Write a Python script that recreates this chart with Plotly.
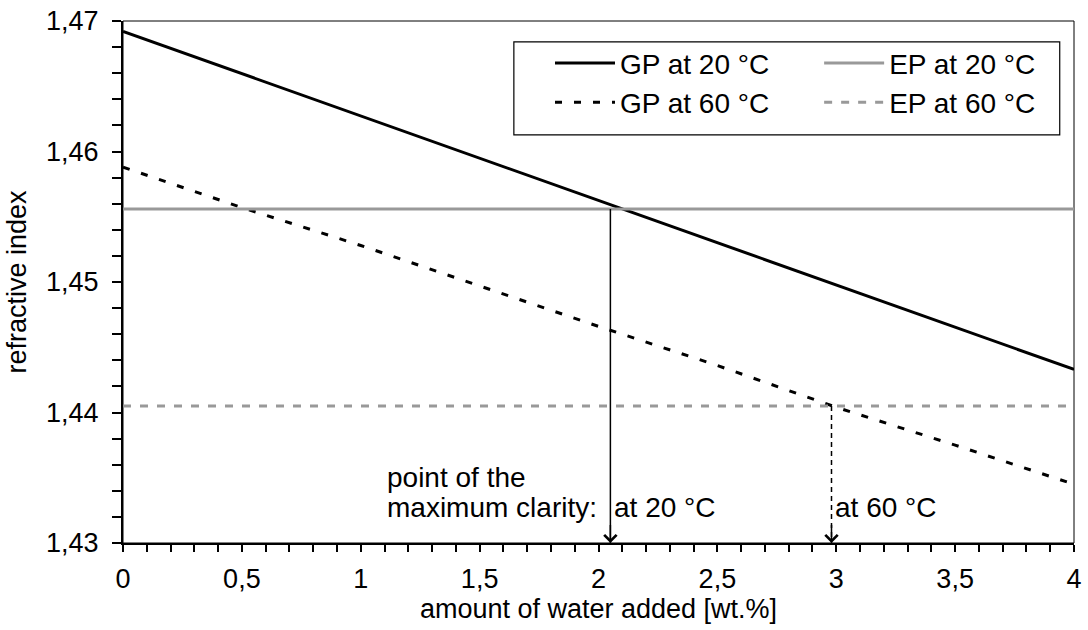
import plotly.graph_objects as go

# ---- data ----
water = [0, 4]
gp20 = [1.4692, 1.4433]
water60 = [0, 0.5, 1.0, 1.5, 2.0, 2.5, 3.0, 3.5, 4.0]
gp60 = [1.4588, 1.4557, 1.4528, 1.4497, 1.4466, 1.4436, 1.4404, 1.4375, 1.4345]
ep20 = [1.4556, 1.4556]
ep60 = [1.4405, 1.4405]
clarity_x = [2.05, 2.98]
clarity_y = [1.4556, 1.4405]
clarity_labels = ["at 20 °C", "at 60 °C"]
note_lines = ["point of the", "maximum clarity:"]
note_y = [1.4350, 1.4327]
x_ticks = [0, 0.5, 1, 1.5, 2, 2.5, 3, 3.5, 4]
y_ticks = [1.43, 1.44, 1.45, 1.46, 1.47]
y_min, y_max = 1.43, 1.47
x_min, x_max = 0, 4

FONT = "Liberation Sans, Arial, sans-serif"
FS = 27
FS_TXT = 28

fig = go.Figure()
fig.add_trace(go.Scatter(x=water, y=gp20, mode="lines", name="GP at 20 °C",
                         line=dict(color="black", width=3), legend="legend"))
fig.add_trace(go.Scatter(x=water60, y=gp60, mode="lines", name="GP at 60 °C",
                         line=dict(color="black", width=3, dash="7px,12px"), legend="legend"))
fig.add_trace(go.Scatter(x=water, y=ep20, mode="lines", name="EP at 20 °C",
                         line=dict(color="#999999", width=3), legend="legend2"))
fig.add_trace(go.Scatter(x=water, y=ep60, mode="lines", name="EP at 60 °C",
                         line=dict(color="#999999", width=3, dash="8px,9px"), legend="legend2"))

# vertical arrows (lines)
fig.add_trace(go.Scatter(x=[clarity_x[0], clarity_x[0]], y=[clarity_y[0], y_min], mode="lines",
                         line=dict(color="black", width=1.5), showlegend=False))
fig.add_trace(go.Scatter(x=[clarity_x[1], clarity_x[1]], y=[clarity_y[1], y_min], mode="lines",
                         line=dict(color="black", width=1.5, dash="5px,4px"), showlegend=False))

for cx in clarity_x:
    fig.add_annotation(x=cx, y=y_min, ax=cx, ay=y_min + 0.0015, xref="x", yref="y",
                       axref="x", ayref="y", showarrow=True, arrowhead=4, arrowsize=1.6,
                       arrowwidth=1.5, arrowcolor="black", standoff=0, text="")

for cx, lab in zip(clarity_x, clarity_labels):
    fig.add_annotation(x=cx + 0.008, y=note_y[1], xref="x", yref="y", text=lab, showarrow=False,
                       xanchor="left", yanchor="middle",
                       font=dict(family=FONT, size=FS_TXT, color="black"))
for txt, ty in zip(note_lines, note_y):
    fig.add_annotation(x=1.10, y=ty, xref="x", yref="y", text=txt, showarrow=False,
                       xanchor="left", yanchor="middle",
                       font=dict(family=FONT, size=FS_TXT, color="black"))

# frame and legend box
fig.add_shape(type="rect", xref="paper", yref="paper", x0=0, x1=1, y0=0, y1=1,
              line=dict(color="black", width=1), layer="below")
fig.add_shape(type="rect", xref="paper", yref="paper", x0=0.411, x1=0.985, y0=0.782, y1=0.96,
              line=dict(color="black", width=1.2), fillcolor="white", layer="below")

fig.update_layout(
    width=1088, height=630,
    margin=dict(l=123, r=6, t=12, b=87),
    paper_bgcolor="white", plot_bgcolor="white",
    separators=", ",
    font=dict(family=FONT, size=FS, color="black"),
    legend=dict(x=0.449, y=0.967, xanchor="left", yanchor="top", bgcolor="rgba(0,0,0,0)",
                font=dict(family=FONT, size=FS_TXT), tracegroupgap=0, itemwidth=60),
    legend2=dict(x=0.732, y=0.967, xanchor="left", yanchor="top", bgcolor="rgba(0,0,0,0)",
                 font=dict(family=FONT, size=FS_TXT), tracegroupgap=0, itemwidth=60),
    xaxis=dict(range=[x_min, x_max], tickvals=x_ticks, showgrid=False, zeroline=False,
               showline=True, linecolor="black", linewidth=2, ticks="outside", ticklen=7,
               tickwidth=1.5, tickcolor="black", ticklabeloverflow="allow", ticklabelstandoff=4,
               minor=dict(dtick=0.1, ticks="outside", ticklen=7, tickwidth=1.5, tickcolor="black"),
               title=dict(text="amount of water added [wt.%]", standoff=0,
                          font=dict(family=FONT, size=FS)),
               tickfont=dict(family=FONT, size=FS)),
    yaxis=dict(range=[y_min, y_max], tickvals=y_ticks, tickformat=".2f", showgrid=False,
               zeroline=False, showline=True, linecolor="black", linewidth=2, ticks="outside",
               ticklen=9, tickwidth=1.5, tickcolor="black", ticklabeloverflow="allow",
               ticklabelstandoff=8,
               minor=dict(dtick=0.002, ticks="outside", ticklen=9, tickwidth=1.5, tickcolor="black"),
               title=dict(text="refractive index", standoff=12, font=dict(family=FONT, size=FS)),
               tickfont=dict(family=FONT, size=FS)),
)

fig.write_html("out.html", config={"displayModeBar": False},
               post_script="document.body.style.margin='0px';document.body.style.overflow='hidden';")
